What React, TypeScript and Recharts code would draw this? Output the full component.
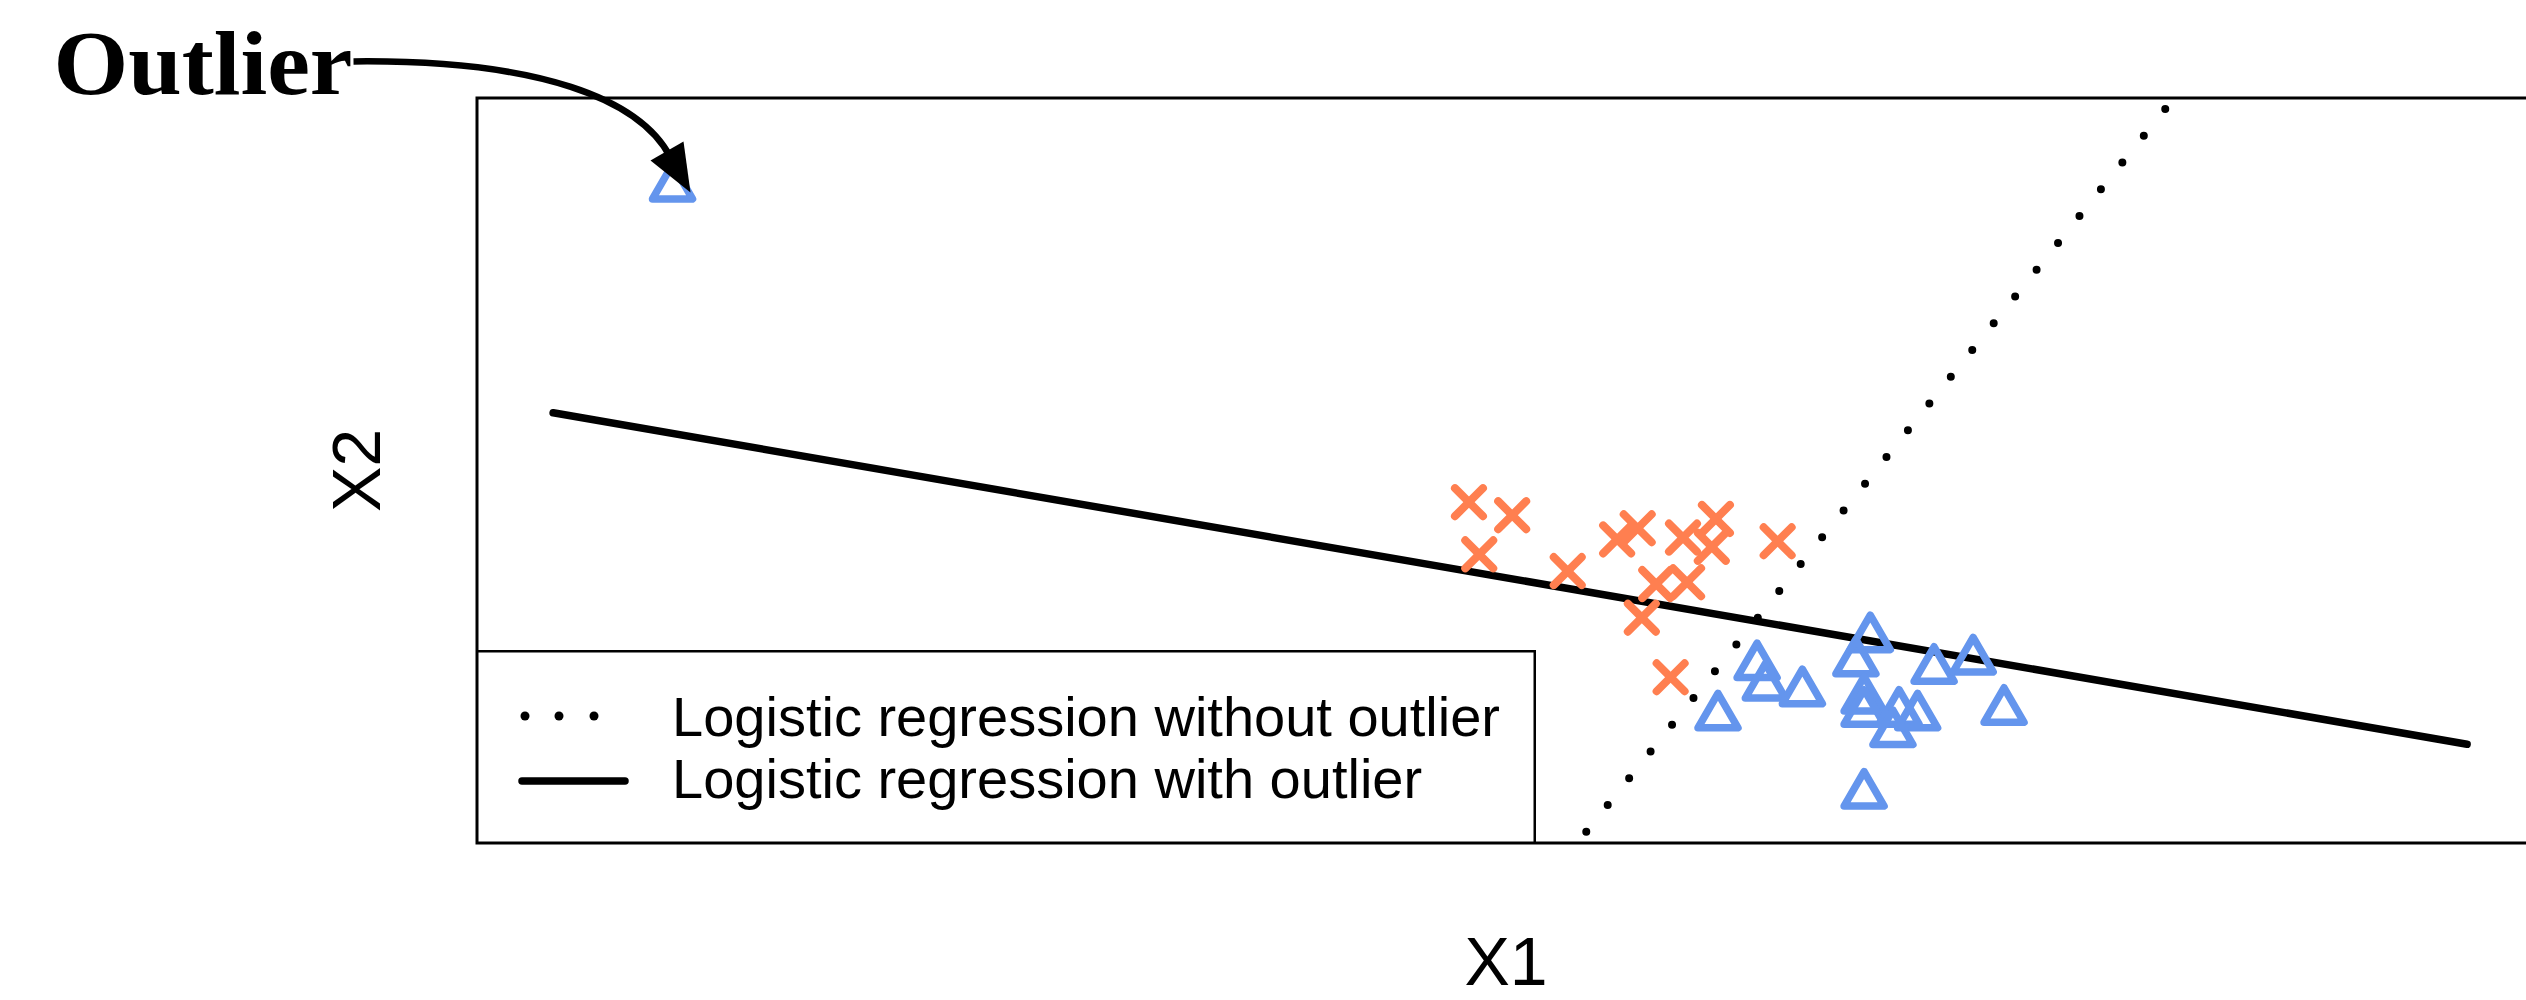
import { ScatterChart, Scatter, XAxis, YAxis, ReferenceLine, ReferenceArea, ReferenceDot, Legend } from 'recharts'

// class 1 (orange crosses)
const crosses = [
  { x: 4.82, y: 1.83 },
  { x: 5.03, y: 1.76 },
  { x: 4.87, y: 1.55 },
  { x: 5.30, y: 1.46 },
  { x: 5.54, y: 1.63 },
  { x: 5.64, y: 1.69 },
  { x: 5.86, y: 1.64 },
  { x: 6.02, y: 1.74 },
  { x: 6.00, y: 1.59 },
  { x: 5.73, y: 1.39 },
  { x: 5.88, y: 1.40 },
  { x: 5.66, y: 1.21 },
  { x: 5.80, y: 0.89 },
  { x: 6.32, y: 1.62 },
]

// class 2 (blue triangles)
const triangles = [
  { x: 6.77, y: 1.10 },
  { x: 6.22, y: 0.95 },
  { x: 6.26, y: 0.84 },
  { x: 6.44, y: 0.81 },
  { x: 6.03, y: 0.68 },
  { x: 6.70, y: 0.97 },
  { x: 6.74, y: 0.77 },
  { x: 6.74, y: 0.70 },
  { x: 6.91, y: 0.70 },
  { x: 7.00, y: 0.68 },
  { x: 6.88, y: 0.59 },
  { x: 7.08, y: 0.93 },
  { x: 7.27, y: 0.98 },
  { x: 7.42, y: 0.71 },
  { x: 6.74, y: 0.26 },
]

const outlier = { x: 0.95, y: 3.52 }

// decision boundaries
const withOutlier = [{ x: 0.37, y: 2.31 }, { x: 9.67, y: 0.53 }]
const withoutOutlier = [{ x: 5.39, y: 0.06 }, { x: 8.21, y: 3.95 }]

const xDomain = [0, 10]
const yDomain = [0, 4]

const legendItems = ['Logistic regression without outlier', 'Logistic regression with outlier']

const ORANGE = '#FF7F50'
const BLUE = '#6495ED'
const SANS = '"Liberation Sans", Arial, Helvetica, sans-serif'

const Cross = ({ cx, cy }: any) => (
  <g stroke={ORANGE} strokeWidth={8} strokeLinecap="round">
    <line x1={cx - 14} y1={cy - 14} x2={cx + 14} y2={cy + 14} />
    <line x1={cx - 14} y1={cy + 14} x2={cx + 14} y2={cy - 14} />
  </g>
)

const Triangle = ({ cx, cy }: any) => (
  <polygon
    points={`${cx},${cy - 23} ${cx + 20},${cy + 11.5} ${cx - 20},${cy + 11.5}`}
    fill="none"
    stroke={BLUE}
    strokeWidth={7.5}
    strokeLinejoin="round"
  />
)

// "Outlier" label + curved arrow, placed relative to the outlier point
const OutlierNote = ({ cx, cy }: any) => (
  <g>
    <text
      x={cx - 619}
      y={cy - 93}
      fontFamily='"Liberation Serif", "Times New Roman", serif'
      fontWeight={700}
      fontSize={90}
      textLength={299}
      lengthAdjust="spacingAndGlyphs"
      fill="#000"
    >
      Outlier
    </text>
    <path
      d={`M${cx - 319},${cy - 126} C${cx - 132},${cy - 128} ${cx - 32},${cy - 88} ${cx - 2},${cy - 30}`}
      fill="none"
      stroke="#000"
      strokeWidth={6.5}
    />
    <polygon points={`${cx + 18},${cy + 5} ${cx - 22},${cy - 27} ${cx + 11},${cy - 46}`} fill="#000" />
  </g>
)

const LegendBox = () => (
  <svg width={1060} height={194} style={{ display: 'block' }}>
    <rect x={1} y={1} width={1058} height={192} fill="#fff" stroke="#000" strokeWidth={3} />
    {[49, 83, 118].map((x) => (
      <circle key={x} cx={x} cy={66} r={4.5} fill="#000" />
    ))}
    <line x1={46} y1={131} x2={149} y2={131} stroke="#000" strokeWidth={7.5} strokeLinecap="round" />
    <text x={196} y={86} fontFamily={SANS} fontSize={56} fill="#000">{legendItems[0]}</text>
    <text x={196} y={148} fontFamily={SANS} fontSize={56} fill="#000">{legendItems[1]}</text>
  </svg>
)

export default function App() {
  return (
    <div style={{ position: 'absolute', left: 0, top: 0, width: 2526, height: 1000, overflow: 'hidden', background: '#fff' }}>
      <ScatterChart width={2560} height={1000} margin={{ top: 98, right: 25, bottom: 0, left: 0 }}>
        <XAxis
          type="number"
          dataKey="x"
          domain={xDomain}
          allowDataOverflow
          height={157}
          tick={false}
          tickLine={false}
          axisLine={false}
          label={{ value: 'X1', position: 'insideBottom', offset: 15, fontSize: 68, fill: '#000', fontFamily: SANS }}
        />
        <YAxis
          type="number"
          dataKey="y"
          domain={yDomain}
          allowDataOverflow
          width={477}
          tick={false}
          tickLine={false}
          axisLine={false}
          label={{
            content: ({ viewBox }: any) => {
              const x = viewBox.x + viewBox.width - 97
              const y = viewBox.y + viewBox.height / 2
              return (
                <text x={x} y={y} transform={`rotate(-90, ${x}, ${y})`} textAnchor="middle" fontSize={68} fontFamily={SANS} fill="#000">
                  X2
                </text>
              )
            },
          }}
        />
        <ReferenceArea x1={xDomain[0]} x2={xDomain[1]} y1={yDomain[0]} y2={yDomain[1]} fill="none" stroke="#000" strokeWidth={3} ifOverflow="visible" />
        <Scatter name="class 1" data={crosses} shape={Cross} isAnimationActive={false} legendType="none" />
        <Scatter name="class 2" data={[...triangles, outlier]} shape={Triangle} isAnimationActive={false} legendType="none" />
        <ReferenceLine segment={withoutOutlier} stroke="#000" strokeWidth={8} strokeLinecap="round" strokeDasharray="0 34.3" ifOverflow="visible" />
        <ReferenceLine segment={withOutlier} stroke="#000" strokeWidth={7.5} strokeLinecap="round" ifOverflow="visible" />
        <ReferenceDot x={outlier.x} y={outlier.y} shape={OutlierNote} ifOverflow="visible" />
        <Legend
          layout="vertical"
          align="center"
          verticalAlign="middle"
          content={LegendBox}
          wrapperStyle={{ left: 476, top: 650, width: 1060, height: 194 }}
        />
      </ScatterChart>
    </div>
  )
}
